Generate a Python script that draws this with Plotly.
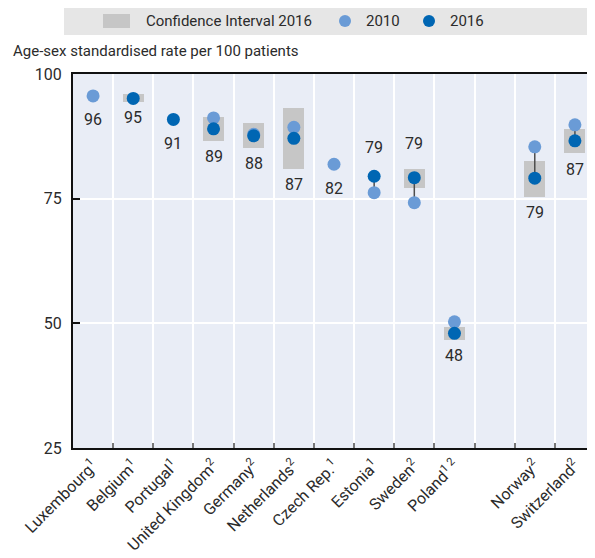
import plotly.graph_objects as go

# ---------------- data ----------------
categories = ["Luxembourg", "Belgium", "Portugal", "United Kingdom", "Germany",
              "Netherlands", "Czech Rep.", "Estonia", "Sweden", "Poland", " ",
              "Norway", "Switzerland"]
tick_labels = ["Luxembourg<sup>1</sup>", "Belgium<sup>1</sup>", "Portugal<sup>1</sup>",
               "United Kingdom<sup>2</sup>", "Germany<sup>2</sup>", "Netherlands<sup>2</sup>",
               "Czech Rep.<sup>1</sup>", "Estonia<sup>1</sup>", "Sweden<sup>2</sup>",
               "Poland<sup>1 2</sup>", "", "Norway<sup>2</sup>", "Switzerland<sup>2</sup>"]
v2010 = [95.6, None, None, 91.2, 87.9, 89.3, 81.9, 76.2, 74.2, 50.3, None, 85.4, 89.8]
v2016 = [None, 95.1, 90.9, 89.0, 87.6, 87.1, None, 79.5, 79.2, 48.0, None, 79.1, 86.6]
ci_low = [None, 94.4, None, 86.6, 85.2, 81.0, None, None, 77.2, 46.7, None, 75.4, 84.1]
ci_high = [None, 96.0, None, 91.4, 90.2, 93.2, None, None, 81.0, 49.3, None, 82.6, 89.0]
value_labels = ["96", "95", "91", "89", "88", "87", "82", "79", "79", "48", None, "79", "87"]
label_side = ["below", "below", "below", "below", "below", "below", "below",
              "above", "above", "below", None, "below", "below"]
y_ticks = [25, 50, 75, 100]

# ---------------- style ----------------
FONT = "Roboto, Liberation Sans, sans-serif"
TXT = "#2b2b2b"
C2010 = "#6a9bd6"
C2016 = "#0066b3"
CI_COL = "#c6c6c6"
PLOT_BG = "#e9edf6"

# the page body adds an 8px margin; work in screen pixels and subtract it
OFF = 8
W, H = 595 - OFF, 558 - OFF
ML, MR, MT, MB = 73 - OFF, 0, 74 - OFF, H - (448 - OFF)
PW, PH = W - ML - MR, H - MT - MB

fig = go.Figure()

# confidence interval boxes
ci_cats = [c for c, l in zip(categories, ci_low) if l is not None]
ci_base = [l for l in ci_low if l is not None]
ci_len = [h - l for h, l in zip(ci_high, ci_low) if l is not None]
fig.add_trace(go.Bar(x=ci_cats, y=ci_len, base=ci_base, width=0.52,
                     marker=dict(color=CI_COL, line=dict(width=0)),
                     name="Confidence Interval 2016", showlegend=False,
                     hoverinfo="skip"))

# connectors
lx, ly = [], []
for c, a, b in zip(categories, v2010, v2016):
    if a is not None and b is not None:
        lx += [c, c, None]
        ly += [a, b, None]
fig.add_trace(go.Scatter(x=lx, y=ly, mode="lines",
                         line=dict(color="#4d4d4d", width=1.5),
                         showlegend=False, hoverinfo="skip"))

# 2010 and 2016 markers
fig.add_trace(go.Scatter(x=[c for c, v in zip(categories, v2010) if v is not None],
                         y=[v for v in v2010 if v is not None], mode="markers",
                         marker=dict(color=C2010, size=13), name="2010", showlegend=False))
fig.add_trace(go.Scatter(x=[c for c, v in zip(categories, v2016) if v is not None],
                         y=[v for v in v2016 if v is not None], mode="markers",
                         marker=dict(color=C2016, size=13), name="2016", showlegend=False))

# value labels
for i, c in enumerate(categories):
    lab = value_labels[i]
    if lab is None:
        continue
    pts = [v for v in (v2010[i], v2016[i]) if v is not None]
    if label_side[i] == "below":
        mk = min(pts)
        if ci_low[i] is not None and ci_low[i] < mk:
            y, shift = ci_low[i], -16
        else:
            y, shift = mk, -24
    else:
        mk = max(pts)
        if ci_high[i] is not None and ci_high[i] > mk:
            y, shift = ci_high[i], 25
        else:
            y, shift = mk, 29
    fig.add_annotation(x=c, y=y, yshift=shift, text=lab, showarrow=False,
                       yanchor="middle", font=dict(family=FONT, size=16, color=TXT))

def px_x(p):
    return (p - OFF - ML) / PW

def px_y(p):
    return (H - MB - (p - OFF)) / PH

# legend (drawn manually)
fig.add_shape(type="rect", xref="paper", yref="paper",
              x0=px_x(64), x1=px_x(591), y0=px_y(35), y1=px_y(6),
              fillcolor="#e6e6e6", line=dict(width=0), layer="above")
fig.add_shape(type="rect", xref="paper", yref="paper",
              x0=px_x(103), x1=px_x(130), y0=px_y(28), y1=px_y(14),
              fillcolor=CI_COL, line=dict(width=0))
for cx, col in ((345, C2010), (429, C2016)):
    fig.add_shape(type="circle", xref="paper", yref="paper",
                  xsizemode="pixel", ysizemode="pixel",
                  xanchor=px_x(cx), yanchor=px_y(21),
                  x0=-6, x1=6, y0=-6, y1=6,
                  fillcolor=col, line=dict(width=0))
for tx, t in ((144, "Confidence Interval 2016"), (364, "2010"), (448, "2016")):
    fig.add_annotation(xref="paper", yref="paper", x=px_x(tx), y=px_y(21),
                       xanchor="left", yanchor="middle", text=t, showarrow=False,
                       font=dict(family=FONT, size=15, color=TXT))

# y-axis title
fig.add_annotation(xref="paper", yref="paper", x=px_x(11), y=px_y(51),
                   xanchor="left", yanchor="middle", showarrow=False,
                   text="Age-sex standardised rate per 100 patients",
                   font=dict(family=FONT, size=15, color=TXT))

fig.update_layout(
    width=W, height=H,
    margin=dict(l=ML, r=MR, t=MT, b=MB),
    paper_bgcolor="white", plot_bgcolor=PLOT_BG,
    showlegend=False, bargap=0,
    font=dict(family=FONT, size=16, color=TXT),
)
fig.update_xaxes(type="category", categoryorder="array", categoryarray=categories,
                 tickmode="array", tickvals=categories, ticktext=tick_labels,
                 tickangle=-45, tickson="boundaries", ticks="inside", ticklen=5,
                 tickcolor="#777", tickwidth=1.5,
                 showgrid=True, gridcolor="white", gridwidth=1.5,
                 showline=True, linecolor="#111", linewidth=2, mirror=True,
                 range=[-0.5, len(categories) - 0.5],
                 tickfont=dict(family=FONT, size=16, color=TXT))
fig.update_yaxes(range=[25, 100], tickvals=y_ticks, ticks="inside", ticklen=7,
                 tickcolor="#111", tickwidth=1.5, ticklabelstandoff=6,
                 showgrid=True, gridcolor="white", gridwidth=1.5, zeroline=False,
                 showline=True, linecolor="#111", linewidth=2,
                 tickfont=dict(family=FONT, size=16, color=TXT))

fig.write_html("out.html")
